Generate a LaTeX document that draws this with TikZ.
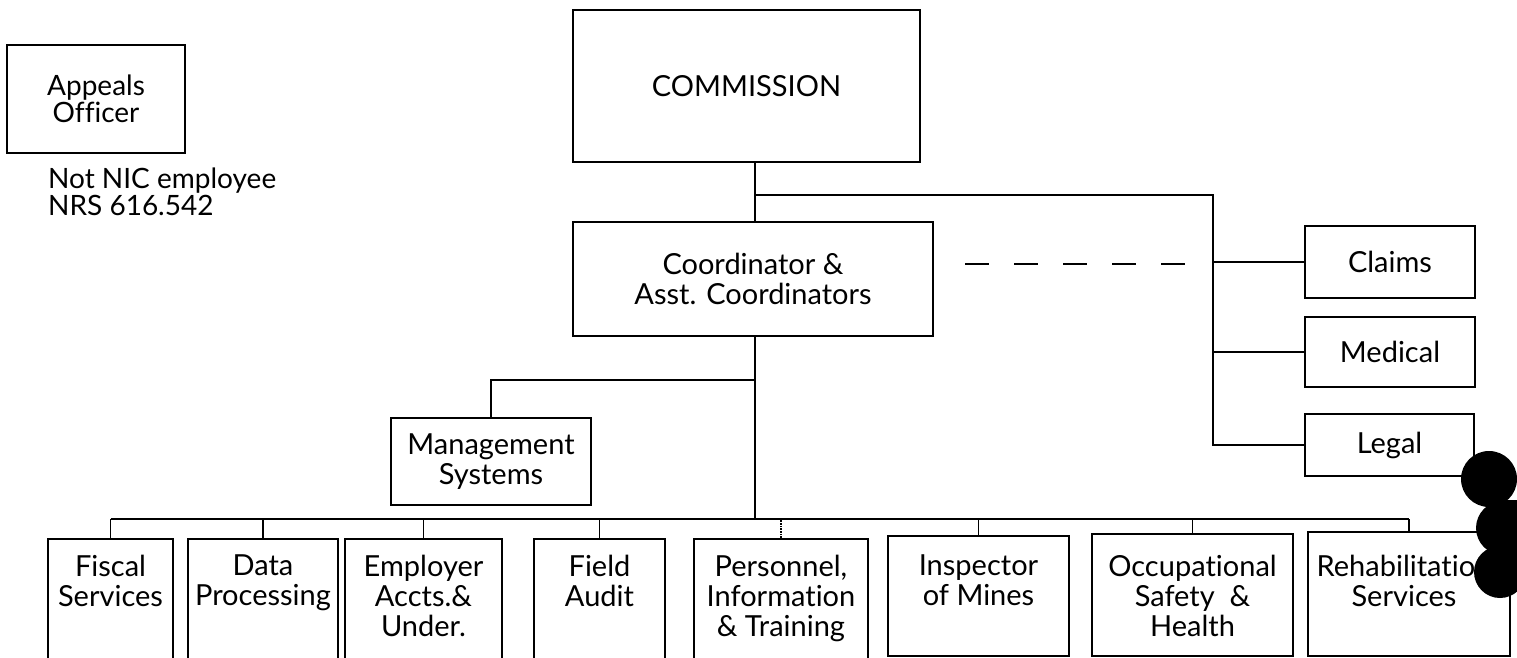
\documentclass[tikz,border=0pt]{standalone}
\usepackage{fontspec}
\setmainfont{Lato}[Ligatures=NoCommon]
\begin{document}
\begin{tikzpicture}[x=1pt,y=-1pt,
  box/.style={draw, line width=1.7pt, inner sep=0pt, align=center},
  lbl/.style={inner sep=0pt, align=center},
  wire/.style={line width=1.7pt},
  font=\fontsize{29}{30}\selectfont]
\useasboundingbox (0,0) rectangle (1517,658);
\clip (0,0) rectangle (1517,658);

% top level
\node[box, minimum width=178pt, minimum height=108pt, font=\fontsize{28}{27}\selectfont] (appeals) at (96,99) {Appeals\\Officer};
\node[lbl, anchor=north west, align=left, font=\fontsize{28}{27}\selectfont] (note) at (48,168) {Not NIC employee\\NRS 616.542};
\node[box, minimum width=347pt, minimum height=152pt] (commission) at (746.5,86) {COMMISSION};
\node[box, minimum width=360pt, minimum height=114pt] (coord) at (753,279) {Coordinator \&\\Asst. Coordinators};

% staff boxes on the right
\node[box, minimum width=170pt, minimum height=72pt] (claims) at (1390,262) {Claims};
\node[box, minimum width=170pt, minimum height=70pt] (medical) at (1390,352) {Medical};
\node[box, minimum width=169pt, minimum height=62pt] (legal) at (1389.5,445) {Legal};

% management systems
\node[box, minimum width=200pt, minimum height=87pt] (mgmt) at (491,461.5) {Management\\Systems};

% bottom row (left five run off the sheet, right three close at its foot)
\begin{scope}[every node/.style={box}]
\node[minimum width=125pt, minimum height=140pt] (fiscal) at (110.5,609) {};
\node[minimum width=150pt, minimum height=140pt] (data) at (263,609) {};
\node[minimum width=157pt, minimum height=140pt] (employer) at (423.5,609) {};
\node[minimum width=131pt, minimum height=140pt] (field) at (599.5,609) {};
\node[minimum width=174pt, minimum height=140pt] (personnel) at (781,609) {};
\node[minimum width=181pt, minimum height=120pt] (inspector) at (978.5,596) {};
\node[minimum width=201pt, minimum height=122pt] (occup) at (1192.5,595) {};
\node[minimum width=202pt, minimum height=124pt] (rehab) at (1409,594) {};
\end{scope}

\begin{scope}[every node/.style={lbl, anchor=north}]
\node (fiscalt) at (110.5,555) {Fiscal\\Services};
\node (datat) at (263,555) {Data\\Processing};
\node (employert) at (423.5,555) {Employer\\Accts.\&\\Under.};
\node (fieldt) at (599.5,555) {Field\\Audit};
\node (personnelt) at (781,555) {Personnel,\\Information\\\& Training};
\node (inspectort) at (978.5,555) {Inspector\\of Mines};
\node (occupt) at (1192.5,555) {Occupational\\Safety~~\&\\Health};
\node (rehabt) at (1404,555) {Rehabilitation\\Services};
\end{scope}

% connectors
\coordinate (j1) at (755,195);
\coordinate (rb) at (1213,195);
\coordinate (m1) at (755,380);
\coordinate (busL) at (110,519);
\coordinate (dashA) at (965,264);
\coordinate (dashB) at (1185,264);

\draw[wire] (commission.south -| j1) -- (coord.north -| j1);
\draw[wire] (j1) -- (rb) -- (rb |- legal.west) -- (legal.west);
\draw[wire] (rb |- claims.west) -- (claims.west);
\draw[wire] (rb |- medical.west) -- (medical.west);
\draw[wire, dash pattern=on 24pt off 25pt] (dashA) -- (dashB);

\draw[wire] (coord.south -| m1) -- (m1 |- busL);
\draw[wire] (m1) -| (mgmt.north);

\draw[wire] (fiscal.north |- busL) -- (rehab.north |- busL);
\foreach \b in {fiscal,data,employer,field,inspector,occup,rehab}
  \draw[wire] (\b.north) -- (\b.north |- busL);
\draw[wire, densely dotted] (personnel.north) -- (personnel.north |- busL);

% binder holes of the scanned sheet
\fill (1489,479) circle (28pt);
\fill (1503,528) circle (27pt);
\fill (1500,572) circle (26pt);
\fill (1495,500) rectangle (1517,560);
\end{tikzpicture}
\end{document}
